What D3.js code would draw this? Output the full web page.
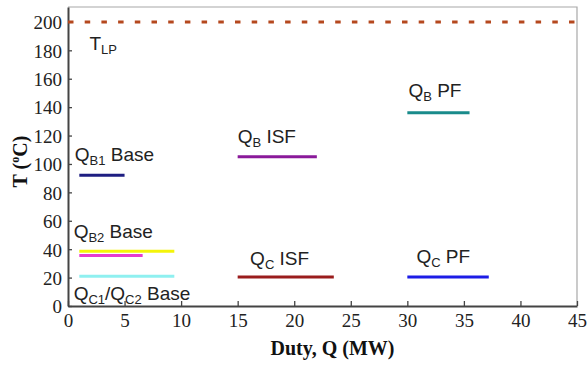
<!DOCTYPE html>
<meta charset="utf-8">
<style>
body{ margin:0; background:#fff; }
.lbl{ font-family:"Liberation Sans", Arial, sans-serif; font-size:19px; fill:#222; }
.title{ font-family:"Liberation Serif", "Times New Roman", serif; font-size:20px; font-weight:bold; fill:#111; }
</style>
<body>
<div id="chart"></div>
<script src="https://cdnjs.cloudflare.com/ajax/libs/d3/7.8.5/d3.min.js"></script>
<script>

// horizontal duty segments: [x start, x end] in MW, temperature in degC
var names  = ["TLP", "QB1 Base", "QB ISF", "QB PF", "QB2 Base", "QB2 Base b", "QC1/QC2 Base", "QC ISF", "QC PF"];
var xStart = [0,   1,  15, 30,  1,    1,   1,   15,   30];
var xEnd   = [45,  5,  22, 35.5, 9.4, 6.6, 9.4, 23.5, 37.2];
var temps  = [200, 92, 105, 136, 38.5, 35.5, 21, 20.5, 20.5];
var colors = ["#b5481e", "#1e1e82", "#8a1a9a", "#198b8b", "#f4f40a", "#e63bd0", "#8ff0f0", "#9a1c1c", "#1c1ce6"];

var xTicks = [0, 5, 10, 15, 20, 25, 30, 35, 40, 45];
var yTicks = [0, 20, 40, 60, 80, 100, 120, 140, 160, 180, 200];

// text labels: [main, subscript, rest] placed at (duty, T)
var labMain = ["T", "Q", "Q", "Q", "Q", "Q", "Q", "Q"];
var labSub  = ["LP", "B1", "B", "B", "B2", "C1", "C", "C"];
var labRest = ["", " Base", " ISF", " PF", " Base", "/Q|C2| Base", " ISF", " PF"];
var labX    = [1.9, 0.6, 15, 30.1, 0.5, 0.5, 16.1, 30.8];
var labY    = [180, 102, 115, 147, 48, 4.5, 29, 30];

var margin = {top: 7, right: 11, bottom: 62, left: 68},
    width = 588 - margin.left - margin.right,
    height = 368 - margin.top - margin.bottom;

var svg = d3.select("#chart")
  .append("svg")
    .attr("width", 588)
    .attr("height", 368)
  .append("g")
    .attr("transform", "translate(" + margin.left + "," + margin.top + ")");

var x = d3.scaleLinear().domain([0, 45]).range([0, width]);
var y = d3.scaleLinear().domain([0, 210.5]).range([height, 0]);

// light box on top and right
svg.append("path")
    .attr("d", "M0,0H" + width + "V" + height)
    .attr("fill", "none")
    .attr("stroke", "#a8a8a8")
    .attr("stroke-width", 1.2);

var xAxis = svg.append("g")
    .attr("transform", "translate(0," + height + ")")
    .call(d3.axisBottom(x).tickValues(xTicks).tickSizeInner(-5).tickSizeOuter(0).tickPadding(8));
var yAxis = svg.append("g")
    .call(d3.axisLeft(y).tickValues(yTicks).tickSizeInner(-4).tickSizeOuter(0).tickPadding(6));

[xAxis, yAxis].forEach(function(a){
  a.select(".domain").attr("stroke", "#444").attr("stroke-width", 2);
  a.selectAll(".tick line").attr("stroke", "#444").attr("stroke-width", 1.3);
  a.selectAll(".tick text")
      .style("font-family", "Liberation Serif, Times New Roman, serif")
      .style("font-size", "19px")
      .style("fill", "#222");
});
yAxis.selectAll(".tick text").attr("dy", "0.36em");

// segments
svg.selectAll("line.seg")
    .data(d3.range(names.length))
    .enter()
    .append("line")
      .attr("class", "seg")
      .attr("x1", function(i){ return x(xStart[i]); })
      .attr("x2", function(i){ return x(xEnd[i]); })
      .attr("y1", function(i){ return y(temps[i]); })
      .attr("y2", function(i){ return y(temps[i]); })
      .attr("stroke", function(i){ return colors[i]; })
      .attr("stroke-width", 3)
      .attr("stroke-dasharray", function(i){ return i === 0 ? "5.5,11.2" : null; });

// labels with subscripts
labMain.forEach(function(m, i){
  var t = svg.append("text")
      .attr("class", "lbl")
      .attr("x", x(labX[i]))
      .attr("y", y(labY[i]));
  t.append("tspan").text(m);
  t.append("tspan").attr("font-size", "13px").attr("dy", 4).text(labSub[i]);
  var rest = labRest[i];
  if (rest.indexOf("|") >= 0) {
    var parts = rest.split("|");
    t.append("tspan").attr("dy", -4).text(parts[0]);
    t.append("tspan").attr("font-size", "13px").attr("dy", 4).text(parts[1]);
    t.append("tspan").attr("dy", -4).text(parts[2]);
  } else if (rest) {
    t.append("tspan").attr("dy", -4).text(rest);
  }
});

// axis titles
svg.append("text")
    .attr("class", "title")
    .attr("x", width / 2 + 10)
    .attr("y", height + 49)
    .attr("text-anchor", "middle")
    .text("Duty, Q (MW)");

var yt = svg.append("text")
    .attr("class", "title")
    .attr("transform", "translate(-41," + (height / 2 + 5) + ") rotate(-90)")
    .attr("text-anchor", "middle");
yt.append("tspan").text("T (");
yt.append("tspan").attr("font-size", "12px").attr("dy", -8).text("o");
yt.append("tspan").attr("dy", 8).text("C)");

</script>
</body>
